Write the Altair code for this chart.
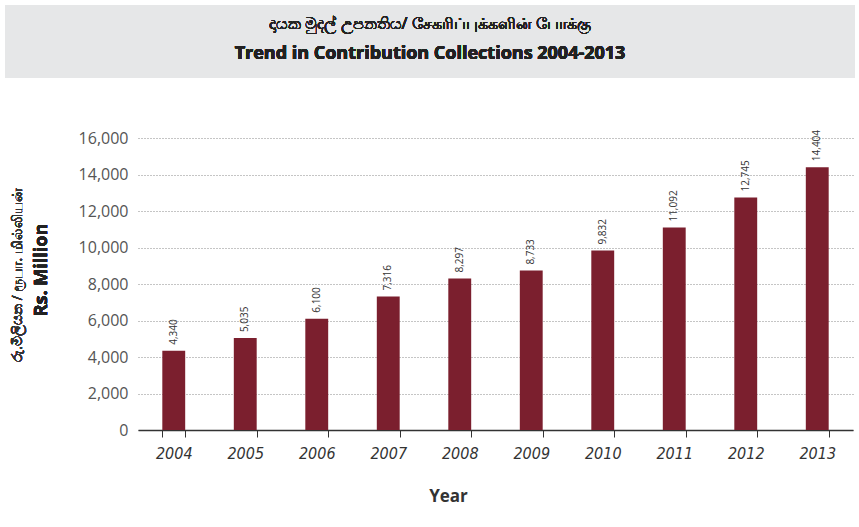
import altair as alt
import pandas as pd

years = ["2004", "2005", "2006", "2007", "2008", "2009", "2010", "2011", "2012", "2013"]
values = [4340, 5035, 6100, 7316, 8297, 8733, 9832, 11092, 12745, 14404]
labels = ["4,340", "5,035", "6,100", "7,316", "8,297", "8,733", "9,832", "11,092", "12,745", "14,404"]
title_si_ta = "දායක මුදල් උපනතිය/ சேகரிப்புக்களின் போக்கு"
title_en = "Trend in Contribution Collections 2004-2013"
y_title_1 = "රු.මිලියන / ரூபா. மில்லியன்"
y_title_2 = "Rs. Million"
y_ticks = [0, 2000, 4000, 6000, 8000, 10000, 12000, 14000, 16000]

df = pd.DataFrame({"Year": years, "Value": values, "Label": labels})

W, H = 715, 292
BAR = "#7B1F2E"

x_enc = alt.X("Year:N", sort=years,
              scale=alt.Scale(paddingInner=0.68, paddingOuter=0.34),
              axis=alt.Axis(title="Year", labelAngle=0, labelFont="DejaVu Sans Condensed",
                            labelFontStyle="italic", labelFontSize=16, labelColor="#333333",
                            labelPadding=8, domainColor="#333333", domainWidth=1.5,
                            tickColor="#333333", tickSize=7, tickBand="extent",
                            titleFont="Open Sans", titleFontWeight="bold", titleFontSize=17,
                            titleColor="#333333", titleX=310, titleY=58, titleAlign="center"))

y_scale = alt.Scale(domain=[0, 16000], nice=False)
y_enc = alt.Y("Value:Q", scale=y_scale,
              axis=alt.Axis(values=y_ticks, format=",d",
                            labelFont="Open Sans", labelFontSize=16, labelColor="#555555",
                            labelPadding=10, domain=False, ticks=False,
                            grid=True, gridColor="#8a8a8a", gridDash=[1, 2], gridWidth=1,
                            title=None))

band = alt.Chart(df).mark_rect(color="#E6E7E8", clip=False).encode(
    x=alt.value(-133), x2=alt.value(717), y=alt.value(-133), y2=alt.value(-60))

t1 = alt.Chart(df).mark_text(fontSize=16, font="Noto Sans", color="#222222", clip=False).encode(
    x=alt.value(292), y=alt.value(-114), text=alt.value(title_si_ta))
t2 = alt.Chart(df).mark_text(fontSize=18, font="Open Sans", fontWeight="bold", color="#222222", clip=False).encode(
    x=alt.value(292), y=alt.value(-84), text=alt.value(title_en))

yt1 = alt.Chart(df).mark_text(fontSize=14, font="Noto Sans", color="#333333", angle=270, clip=False).encode(
    x=alt.value(-120), y=alt.value(137), text=alt.value(y_title_1))
yt2 = alt.Chart(df).mark_text(fontSize=18, font="Open Sans", fontWeight="bold", color="#222222", angle=270, clip=False).encode(
    x=alt.value(-96), y=alt.value(132), text=alt.value(y_title_2))

bars = alt.Chart(df).mark_bar(color=BAR).encode(x=x_enc, y=y_enc)
text = alt.Chart(df).mark_text(angle=270, align="left", baseline="middle", dx=6,
                                fontSize=10, font="Open Sans", color="#333333").encode(
    x=x_enc, y=y_enc, text="Label:N")

chart = alt.layer(band, t1, t2, yt1, yt2, bars, text).properties(
    width=W, height=H,
    autosize=alt.AutoSizeParams(type="none"),
    padding={"left": 138, "top": 138, "right": 6, "bottom": 97},
    background="white",
).configure_view(stroke=None)

chart.save("out.html", embed_options={"renderer": "svg", "actions": False})
